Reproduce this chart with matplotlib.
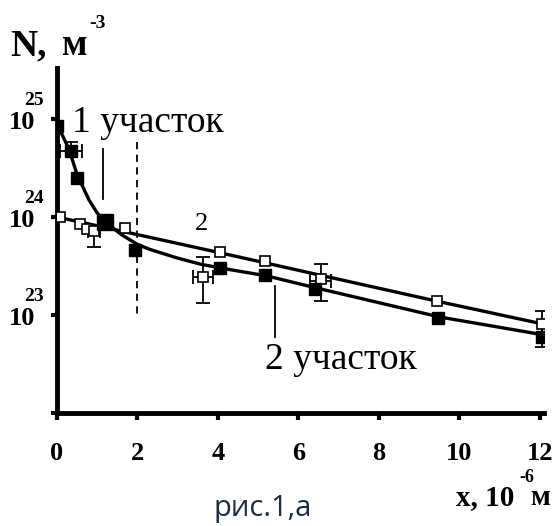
import numpy as np
import matplotlib.pyplot as plt

# x in 1e-6 m, values as log10(N)
# series 1 - filled squares
x1 = [0.0, 0.35, 0.5, 1.2, 1.95, 4.05, 5.17, 6.4, 9.47, 12.05]
lg1 = [24.93, 24.67, 24.40, 23.95, 23.66, 23.48, 23.41, 23.27, 22.97, 22.78]
# series 2 - open squares
x2 = [0.07, 0.57, 0.75, 0.92, 1.7, 3.63, 4.05, 5.17, 6.55, 9.45, 12.05]
lg2 = [24.0, 23.93, 23.88, 23.86, 23.89, 23.39, 23.64, 23.55, 23.37, 23.14, 22.91]

# fitted curves
fit1_x = [0, 0.3, 0.5, 0.8, 1.0, 1.2, 1.6, 2.0, 2.3, 3.0, 3.55, 4.05, 5.2, 6.4, 9.5, 12.05]
fit1_lg = [24.95, 24.69, 24.43, 24.17, 24.04, 23.95, 23.82, 23.72, 23.67, 23.58, 23.52, 23.48, 23.40, 23.28, 22.98, 22.80]
fit2_x = [0, 2, 4.05, 6.5, 9.45, 12.05]
fit2_lg = [24.0, 23.82, 23.635, 23.41, 23.14, 22.91]

# error bars
err_x = [0.35, 0.92, 3.63, 6.55, 12.05]
err_lg = [24.67, 23.86, 23.39, 23.35, 22.91]
err_lo = [24.67, 23.69, 23.12, 23.14, 22.67]
err_hi = [24.77, 23.91, 23.59, 23.52, 23.04]
err_xe = [0.27, 0.15, 0.25, 0.27, 0.0]

W, H = 557, 526
fig = plt.figure(figsize=(W / 100, H / 100), dpi=100)
ax = fig.add_axes([57 / W, 1 - 413 / H, (544 - 57) / W, (413 - 68) / H])
ax.set_yscale('log')

p = lambda v: 10.0 ** np.array(v, dtype=float)

ax.plot(fit1_x, p(fit1_lg), color='black', lw=2.4, zorder=3)
ax.plot(fit2_x, p(fit2_lg), color='black', lw=2.4, zorder=3)

yc = p(err_lg)
ax.errorbar(err_x, yc, xerr=err_xe,
            yerr=[yc - p(err_lo), p(err_hi) - yc],
            fmt='none', ecolor='black', elinewidth=1.3, capsize=5, capthick=1.3, zorder=4)

ax.plot(x2, p(lg2), 's', ms=7.5, mfc='white', mec='black', mew=1.2, zorder=5)
ax.plot(x1, p(lg1), 's', ms=8, color='black', zorder=6)
ax.plot([1.2], p([23.95]), 's', ms=11, color='black', zorder=6)

# region markers
ax.plot([1.14, 1.14], p([24.69, 24.18]), color='black', lw=1.3)
ax.plot([2.0, 2.0], p([24.77, 22.96]), color='black', lw=1.3, ls=(0, (4, 3)))
ax.plot([5.42, 5.42], p([23.30, 22.78]), color='black', lw=1.3)

ax.text(0.37, 10 ** 24.867, '1 участок', family='Liberation Serif', fontsize=27, va='baseline')
ax.text(5.17, 10 ** 22.45, '2 участок', family='Liberation Serif', fontsize=27, va='baseline')
ax.text(3.6, 10 ** 23.93, '2', family='Liberation Serif', fontsize=19, ha='center', va='center')

for s in ['top', 'right']:
    ax.spines[s].set_visible(False)
for s in ['left', 'bottom']:
    ax.spines[s].set_linewidth(3.5)

ax.set_xticks(range(0, 13, 2))
ax.set_xticklabels([str(v) for v in range(0, 13, 2)], family='Liberation Serif',
                   fontweight='bold', fontsize=19)
ax.tick_params(axis='x', length=5, width=3, pad=16)
ax.set_yticks(p([22, 23, 24, 25]))
ax.set_yticklabels([])
ax.yaxis.set_minor_locator(plt.NullLocator())
ax.tick_params(axis='y', length=4, width=3)
ax.set_xlim(0, 12.1)
ax.set_ylim(1e22, 10 ** 25.52)

# y tick labels 10^n
for e in [23, 24, 25]:
    ax.text(-0.045, 10 ** (e - 0.04), '10', transform=ax.get_yaxis_transform(), ha='right', va='center',
            family='Liberation Serif', fontweight='bold', fontsize=19)
    ax.text(-0.048, 10 ** (e + 0.19), str(e), transform=ax.get_yaxis_transform(), ha='center', va='center',
            family='Liberation Serif', fontweight='bold', fontsize=14)

fs = lambda x, y: (x / W, 1 - y / H)
fig.text(*fs(10, 55), 'N,', family='Liberation Serif', fontweight='bold', fontsize=27, va='baseline')
fig.text(*fs(62, 55), 'м', family='Liberation Serif', fontweight='bold', fontsize=27, va='baseline')
fig.text(*fs(97, 23), '-3', family='Liberation Serif', fontweight='bold', fontsize=14, ha='center', va='center')
fig.text(*fs(456, 505), 'x, 10', family='Liberation Serif', fontweight='bold', fontsize=21, va='baseline')
fig.text(*fs(530, 505), 'м', family='Liberation Serif', fontweight='bold', fontsize=21, va='baseline')
fig.text(*fs(527, 477), '-6', family='Liberation Serif', fontweight='bold', fontsize=13, ha='center', va='center')
fig.text(*fs(263, 516), 'рис.1,а', family='Open Sans', fontsize=21, color='#1c2a4a', ha='center', va='baseline')

fig.savefig('out.png', dpi=100)
